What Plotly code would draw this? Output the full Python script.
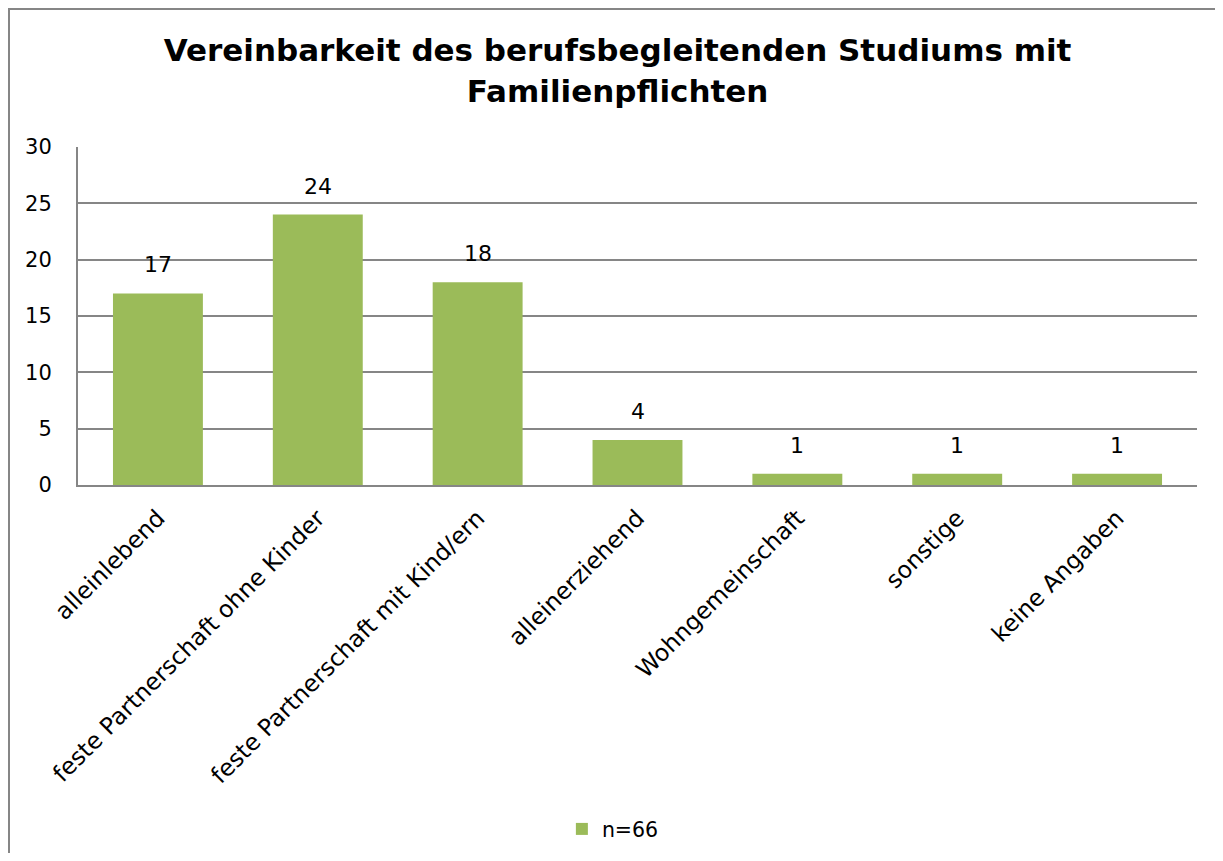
import plotly.graph_objects as go

categories = ["alleinlebend", "feste Partnerschaft ohne Kinder", "feste Partnerschaft mit Kind/ern",
              "alleinerziehend", "Wohngemeinschaft", "sonstige", "keine Angaben"]
values = [17, 24, 18, 4, 1, 1, 1]
series_name = "n=66"
title_text = "Vereinbarkeit des berufsbegleitenden Studiums mit<br>Familienpflichten"

FONT = "DejaVu Sans"
W, H = 1207, 845          # page adds an 8px body margin
L, R, T, B = 70, 18, 139, 368
pw = W - L - R
ph = H - T - B

fig = go.Figure()
fig.add_trace(go.Bar(
    x=categories, y=values, name=series_name,
    marker=dict(color="#9BBB59", line=dict(width=0)),
    showlegend=True,
))

for c, v in zip(categories, values):
    fig.add_annotation(x=c, y=v, text=str(v), showarrow=False, yanchor="bottom",
                       yshift=14, font=dict(size=22, color="black", family=FONT))

fig.add_shape(type="rect", xref="paper", yref="paper",
              x0=(1 - L) / pw, x1=(W + 30 - L) / pw,
              y0=-(H + 30 - T - ph) / ph, y1=1 + (T - 1) / ph,
              line=dict(color="#868686", width=2), layer="above")

fig.update_layout(
    width=W, height=H,
    margin=dict(l=L, r=R, t=T, b=B, autoexpand=False),
    paper_bgcolor="white", plot_bgcolor="white",
    font=dict(family=FONT, color="black", size=20),
    title=dict(text=title_text, x=0.505, xanchor="center", y=0.937, yanchor="top",
               font=dict(size=31, family=FONT, color="black", weight="bold")),
    bargap=0.4375,
    xaxis=dict(tickangle=-45, showline=True, linecolor="#868686", linewidth=2,
               ticks="", ticklabelstandoff=8, tickfont=dict(size=23.5, family=FONT),
               showgrid=False),
    yaxis=dict(range=[0, 30], dtick=5, showline=True, linecolor="#868686", linewidth=2,
               showgrid=True, gridcolor="#868686", gridwidth=1.5, ticks="",
               ticklabelstandoff=20, tickfont=dict(size=21, family=FONT), zeroline=False),
    legend=dict(orientation="h", x=0.478, xanchor="center", y=-1.018, yanchor="middle",
                font=dict(size=20.5, family=FONT), itemwidth=30),
)
fig.write_html("out.html")
